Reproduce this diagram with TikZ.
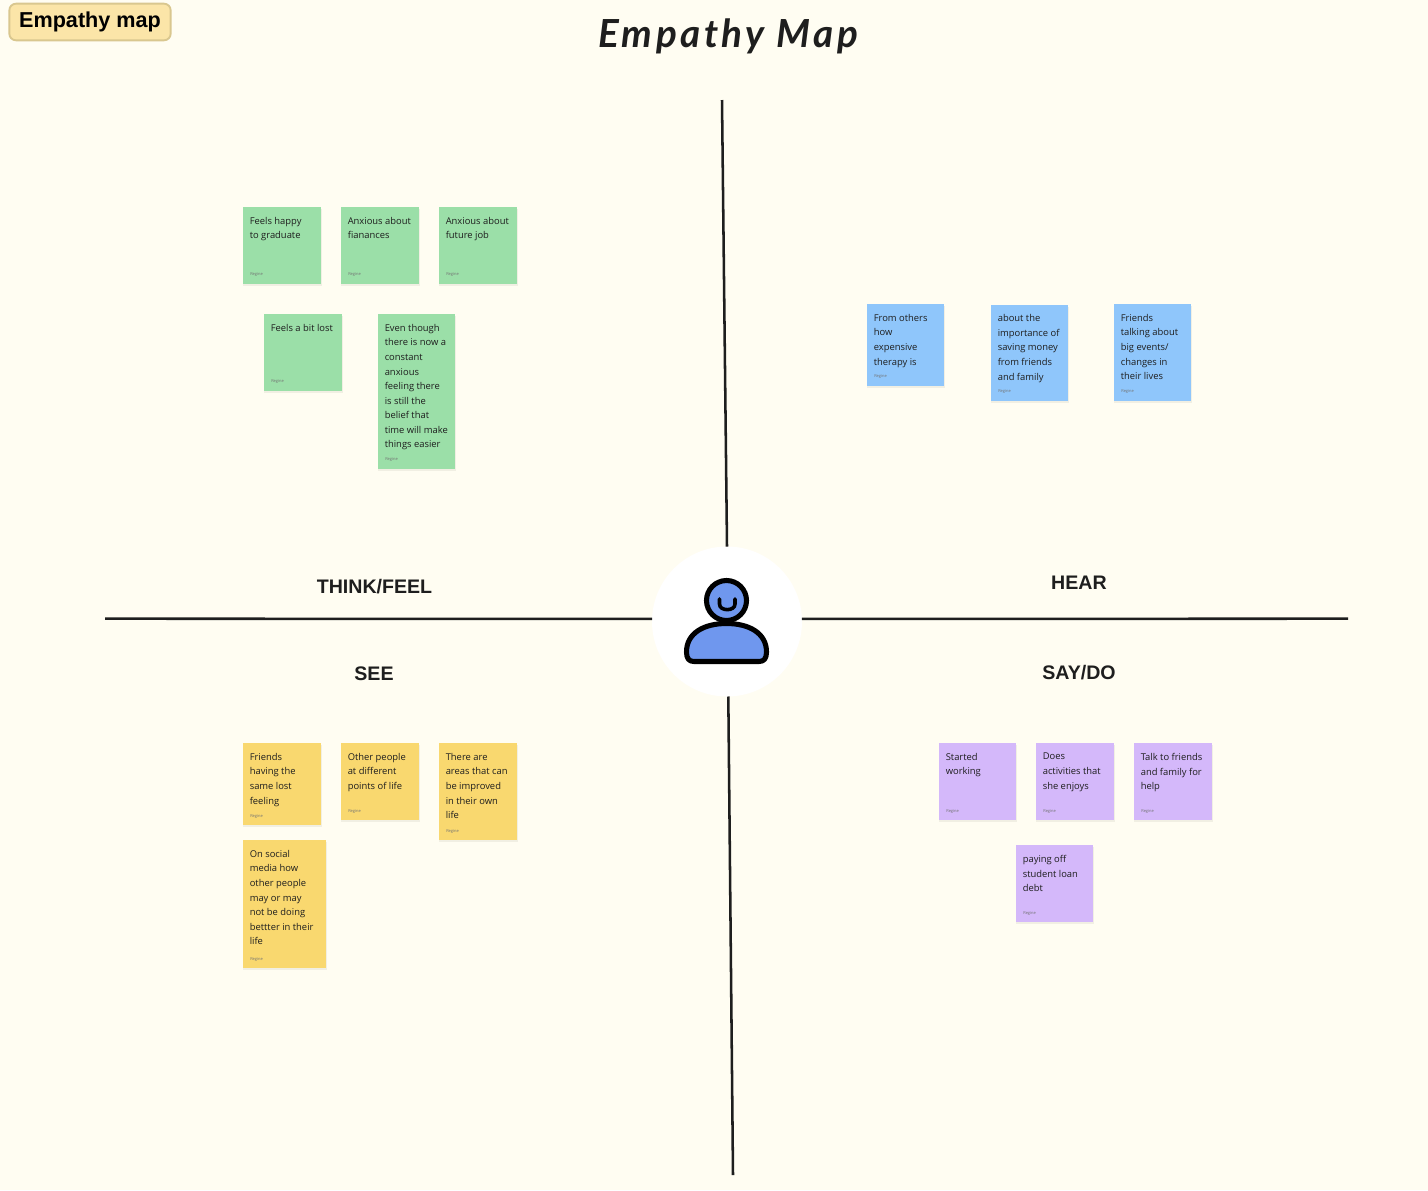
\documentclass[tikz,border=0pt]{standalone}
\usepackage{fontspec}
\setmainfont{Open Sans}
\newfontfamily\headfont{Liberation Sans}
\newfontfamily\titlefont{Lato}
\definecolor{bgc}{HTML}{FFFDF2}
\definecolor{ink}{HTML}{1E1E1E}
\definecolor{gr}{HTML}{9BDFA8}
\definecolor{bl}{HTML}{8FC6FB}
\definecolor{ye}{HTML}{F9D86F}
\definecolor{pu}{HTML}{D4B8FA}
\definecolor{bodyblue}{HTML}{6F97EE}
\definecolor{shade}{HTML}{F1EFE3}
\tikzset{
  x=0.75pt,y=-0.75pt,
  stickytext/.style={anchor=north west,inner sep=0pt,align=left,text=ink,font=\fontsize{7.05pt}{10.9pt}\selectfont},
  sign/.style={anchor=west,inner sep=0pt,text=black!55,font=\fontsize{3pt}{3pt}\selectfont},
  heading/.style={text=ink,inner sep=0pt,font=\headfont\fontsize{14.7pt}{18pt}\selectfont\bfseries},
  axis/.style={draw=ink,line width=1.9pt},
  personline/.style={draw=black,line width=3.8pt,fill=bodyblue,line join=round}
}
% name, x0, y0, x1, y1, colour, text
\newcommand{\stickynote}[7]{%
  \path[fill=shade] (#2,#3+2) rectangle (#4+0.5,#5+2);
  \path[fill=#6] (#2,#3) rectangle (#4,#5);
  \node[stickytext] (#1) at (#2+6.5,#3+10) {#7};
  \node[sign] (#1s) at (#2+7,#5-9) {Regine};
}
\begin{document}
\begin{tikzpicture}
\path[use as bounding box,fill=bgc] (0,0) rectangle (1428,1190);

% badge and title
\node[draw={rgb,255:red,217;green,199;blue,143},line width=1.4pt,fill={rgb,255:red,251;green,229;blue,168},rounded corners=5pt,
      minimum width=121pt,minimum height=27.5pt,inner sep=0pt,font=\headfont\fontsize{16.2pt}{20pt}\selectfont\bfseries] (badge) at (90,22) {Empathy map};
\node[text=ink,inner sep=0pt,font=\titlefont\fontsize{29pt}{30pt}\selectfont\bfseries\itshape\addfontfeature{LetterSpace=9}] (title) at (728,36) {Empathy Map};

% hub and axes
\node[circle,fill=white,minimum size=112.5pt,inner sep=0pt,outer sep=0pt] (hub) at (727,621.5) {};
\coordinate (topend) at (722,100);
\coordinate (botend) at (733,1175);
\coordinate (leftend) at (105,618.7);
\coordinate (rightend) at (1348,618.7);
\draw[axis] (topend) -- (hub.north);
\draw[axis] (botend) -- (hub.-89);
\draw[axis] (leftend) -- (hub.178);
\draw[axis] (rightend) -- (hub.2);

% person
\draw[personline] (686.5,652) .. controls (686.5,633) and (704,623.5) .. (726.5,623.5)
   .. controls (749,623.5) and (766.5,633) .. (766.5,652)
   .. controls (766.5,658.5) and (764,661.5) .. (759,661.5) -- (694,661.5)
   .. controls (689,661.5) and (686.5,658.5) .. (686.5,652) -- cycle;
\draw[personline] (726.5,600.5) circle [radius=20*0.75pt];
\draw[draw=black,line width=2.7pt,line cap=round] (719.5,599) -- (719.5,604) .. controls (719.5,611.5) and (735,611.5) .. (735,604) -- (735,599);

% headings
\node[heading] (think) at (374.5,587) {THINK/FEEL};
\node[heading] (hear) at (1079,582.5) {HEAR};
\node[heading] (see) at (374,673.5) {SEE};
\node[heading] (say) at (1079,673) {SAY/DO};

% green
\stickynote{g1}{243}{207}{321}{284}{gr}{Feels happy\\to graduate}
\stickynote{g2}{341}{207}{419}{284}{gr}{Anxious about\\fianances}
\stickynote{g3}{439}{207}{517}{284}{gr}{Anxious about\\future job}
\stickynote{g4}{264}{314}{342}{391}{gr}{Feels a bit lost}
\stickynote{g5}{378}{314}{455}{469}{gr}{Even though\\there is now a\\constant\\anxious\\feeling there\\is still the\\belief that\\time will make\\things easier}
% blue
\stickynote{b1}{867}{304}{944}{386}{bl}{From others\\how\\expensive\\therapy is}
\stickynote{b2}{991}{304.5}{1068}{401}{bl}{about the\\importance of\\saving money\\from friends\\and family}
\stickynote{b3}{1114}{304}{1191}{401}{bl}{Friends\\talking about\\big events/\\changes in\\their lives}
% yellow
\stickynote{y1}{243}{743}{321}{825}{ye}{Friends\\having the\\same lost\\feeling}
\stickynote{y2}{341}{743}{419}{820}{ye}{Other people\\at different\\points of life}
\stickynote{y3}{439}{743}{517}{840}{ye}{There are\\areas that can\\be improved\\in their own\\life}
\stickynote{y4}{243}{840}{326}{968}{ye}{On social\\media how\\other people\\may or may\\not be doing\\bettter in their\\life}
% purple
\stickynote{p1}{939}{743}{1016}{820}{pu}{Started\\working}
\stickynote{p2}{1036}{743}{1114}{820}{pu}{Does\\activities that\\she enjoys}
\stickynote{p3}{1134}{743}{1212}{820}{pu}{Talk to friends\\and family for\\help}
\stickynote{p4}{1016}{845}{1093}{922}{pu}{paying off\\student loan\\debt}
\end{tikzpicture}
\end{document}
